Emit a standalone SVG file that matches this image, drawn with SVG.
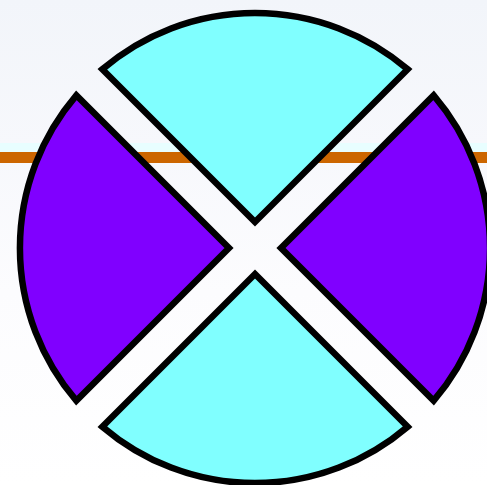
<svg xmlns="http://www.w3.org/2000/svg" width="487" height="485" viewBox="0 0 487 485">
  <defs>
    <linearGradient id="bg" x1="0" y1="0" x2="0" y2="1">
      <stop offset="0" stop-color="#f2f5fa"/>
      <stop offset="0.3" stop-color="#f7f8fc"/>
      <stop offset="0.6" stop-color="#fcfcfe"/>
      <stop offset="1" stop-color="#ffffff"/>
    </linearGradient>
  </defs>
  <style>
    .sec { stroke: #000; stroke-width: 6.5; stroke-linejoin: miter; }
    .cyan { fill: #80ffff; }
    .purple { fill: #8000ff; }
  </style>
  <rect x="0" y="0" width="487" height="485" fill="url(#bg)"/>
  <rect x="0" y="143" width="487" height="9" fill="#e8feff"/>
  <rect x="0" y="152" width="487" height="11" fill="#cc6600"/>
  <g id="top-sector">
    <path class="sec cyan" d="M255,222 L102.3,69.3 A235,235 0 0 1 407.7,69.3 Z"/>
  </g>
  <g id="bottom-sector">
    <path class="sec cyan" d="M255,274 L407.7,426.7 A235,235 0 0 1 102.3,426.7 Z"/>
  </g>
  <g id="left-sector">
    <path class="sec purple" d="M229,248 L76.3,400.7 A235,235 0 0 1 76.3,95.3 Z"/>
  </g>
  <g id="right-sector">
    <path class="sec purple" d="M281,248 L433.7,95.3 A235,235 0 0 1 433.7,400.7 Z"/>
  </g>
  <g id="connectors"/>
</svg>
